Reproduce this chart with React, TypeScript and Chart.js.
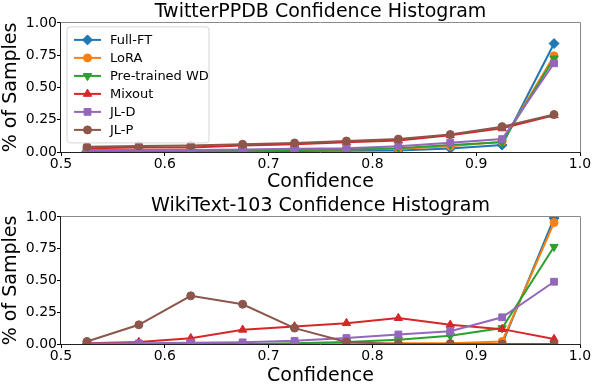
import React, { useEffect, useRef } from 'react';
import { Chart, registerables } from 'chart.js';

Chart.register(...registerables);

// ---------- data ----------
const bins = [0.525, 0.575, 0.625, 0.675, 0.725, 0.775, 0.825, 0.875, 0.925, 0.975];
const seriesNames = ['Full-FT', 'LoRA', 'Pre-trained WD', 'Mixout', 'JL-D', 'JL-P'];
const seriesColors = ['#1f77b4', '#ff7f0e', '#2ca02c', '#d62728', '#9467bd', '#8c564b'];
const seriesMarkers = ['rectRot', 'circle', 'triangle', 'triangle', 'rect', 'circle'];
const markerRotations = [0, 0, 180, 0, 0, 0];
const markerRadii = [5, 4, 4.8, 4.8, 4.8, 4];

const twitterFullFT = [0.005, 0.005, 0.005, 0.005, 0.008, 0.01, 0.012, 0.028, 0.054, 0.84];
const twitterLoRA = [0.01, 0.01, 0.01, 0.012, 0.015, 0.02, 0.025, 0.045, 0.08, 0.745];
const twitterWD = [0.01, 0.01, 0.01, 0.012, 0.015, 0.02, 0.03, 0.055, 0.075, 0.725];
const twitterMixout = [0.03, 0.035, 0.035, 0.05, 0.06, 0.075, 0.09, 0.13, 0.183, 0.285];
const twitterJLD = [0.015, 0.015, 0.015, 0.02, 0.025, 0.03, 0.045, 0.072, 0.1, 0.687];
const twitterJLP = [0.04, 0.047, 0.05, 0.06, 0.07, 0.085, 0.1, 0.135, 0.196, 0.29];

const wikiFullFT = [0, 0, 0, 0, 0, 0, 0, 0, 0, 0.99];
const wikiLoRA = [0, 0, 0, 0, 0, 0, 0.005, 0.005, 0.02, 0.955];
const wikiWD = [0, 0, 0, 0, 0.005, 0.016, 0.034, 0.065, 0.125, 0.765];
const wikiMixout = [0.005, 0.015, 0.045, 0.112, 0.138, 0.164, 0.204, 0.151, 0.117, 0.039];
const wikiJLD = [0.003, 0.005, 0.01, 0.013, 0.025, 0.047, 0.075, 0.1, 0.21, 0.49];
const wikiJLP = [0.02, 0.151, 0.379, 0.313, 0.125, 0.016, 0, 0, 0, 0];

const xTickValues = [0.5, 0.6, 0.7, 0.8, 0.9, 1.0];
const yTickValues = [0, 0.25, 0.5, 0.75, 1.0];

const FONT = "'DejaVu Sans', sans-serif";

function buildDatasets(series: number[][]) {
  return series.map((vals, i) => ({
    label: seriesNames[i],
    data: vals.map((v, j) => ({ x: bins[j], y: v })),
    borderColor: seriesColors[i],
    backgroundColor: seriesColors[i],
    pointBackgroundColor: seriesColors[i],
    pointBorderColor: seriesColors[i],
    pointStyle: seriesMarkers[i],
    pointRotation: markerRotations[i],
    pointRadius: markerRadii[i],
    pointBorderWidth: 1,
    borderWidth: 2,
    tension: 0,
    clip: 0,
    order: seriesNames.length - i,
  }));
}

const framePlugin = {
  id: 'frame',
  afterDraw(chart: any) {
    const { ctx, chartArea: a } = chart;
    ctx.save();
    ctx.lineWidth = 1;
    const l = Math.round(a.left) - 0.5;
    const r = Math.round(a.right) + 0.5;
    const t = Math.round(a.top) - 0.5;
    const b = Math.round(a.bottom) + 0.5;
    ctx.strokeStyle = '#8a8a8a';
    ctx.beginPath();
    ctx.moveTo(l, t);
    ctx.lineTo(r, t);
    ctx.lineTo(r, b);
    ctx.stroke();
    ctx.strokeStyle = '#222';
    ctx.beginPath();
    ctx.moveTo(l, t);
    ctx.lineTo(l, b);
    ctx.lineTo(r, b);
    ctx.stroke();
    ctx.restore();
  },
};

function drawMarker(ctx: CanvasRenderingContext2D, style: string, radius: number, rotationDeg: number, x: number, y: number) {
  const rad = (rotationDeg * Math.PI) / 180;
  ctx.beginPath();
  if (style === 'circle') {
    ctx.arc(x, y, radius, 0, Math.PI * 2);
  } else if (style === 'rect') {
    const s = Math.SQRT1_2 * radius;
    ctx.rect(x - s, y - s, 2 * s, 2 * s);
  } else if (style === 'rectRot') {
    ctx.moveTo(x - radius, y);
    ctx.lineTo(x, y - radius);
    ctx.lineTo(x + radius, y);
    ctx.lineTo(x, y + radius);
    ctx.closePath();
  } else if (style === 'triangle') {
    let r2 = rad;
    ctx.moveTo(x + Math.sin(r2) * radius, y - Math.cos(r2) * radius);
    r2 += (2 * Math.PI) / 3;
    ctx.lineTo(x + Math.sin(r2) * radius, y - Math.cos(r2) * radius);
    r2 += (2 * Math.PI) / 3;
    ctx.lineTo(x + Math.sin(r2) * radius, y - Math.cos(r2) * radius);
    ctx.closePath();
  }
  ctx.fill();
  ctx.stroke();
}

const legendBoxPlugin = {
  id: 'legendBox',
  afterDraw(chart: any, _args: any, opts: any) {
    if (!opts || !opts.show) return;
    const { ctx, chartArea: a } = chart;
    ctx.save();
    const x0 = a.left + 6;
    const y0 = a.top + 4;
    const w = 142;
    const h = 116;
    const rr = 3;
    ctx.beginPath();
    ctx.moveTo(x0 + rr, y0);
    ctx.arcTo(x0 + w, y0, x0 + w, y0 + h, rr);
    ctx.arcTo(x0 + w, y0 + h, x0, y0 + h, rr);
    ctx.arcTo(x0, y0 + h, x0, y0, rr);
    ctx.arcTo(x0, y0, x0 + w, y0, rr);
    ctx.closePath();
    ctx.fillStyle = 'rgba(255,255,255,0.8)';
    ctx.fill();
    ctx.strokeStyle = '#d6d6d6';
    ctx.lineWidth = 1;
    ctx.stroke();
    ctx.font = `13px ${FONT}`;
    ctx.textBaseline = 'middle';
    ctx.textAlign = 'left';
    seriesNames.forEach((name, i) => {
      const cy = y0 + 13 + i * 18;
      ctx.strokeStyle = seriesColors[i];
      ctx.lineWidth = 2;
      ctx.beginPath();
      ctx.moveTo(x0 + 7, cy);
      ctx.lineTo(x0 + 34, cy);
      ctx.stroke();
      ctx.fillStyle = seriesColors[i];
      ctx.strokeStyle = seriesColors[i];
      ctx.lineWidth = 1;
      drawMarker(ctx, seriesMarkers[i], markerRadii[i], markerRotations[i], x0 + 20.5, cy);
      ctx.fillStyle = '#000';
      ctx.fillText(name, x0 + 43, cy + 0.5);
    });
    ctx.restore();
  },
};

type PanelProps = {
  title: string;
  series: number[][];
  height: number;
  plotBottom: number;
  showLegend: boolean;
  top: number;
  titlePadTop: number;
};

function Panel({ title, series, height, plotBottom, showLegend, top, titlePadTop }: PanelProps) {
  const ref = useRef<HTMLCanvasElement | null>(null);
  useEffect(() => {
    if (!ref.current) return;
    const chart = new Chart(ref.current, {
      type: 'line',
      data: { datasets: buildDatasets(series) as any },
      plugins: [framePlugin, legendBoxPlugin],
      options: {
        animation: false,
        responsive: false,
        maintainAspectRatio: false,
        layout: { padding: { left: 0, right: 16, top: 0, bottom: 0 } },
        plugins: {
          legend: { display: false },
          tooltip: { enabled: false },
          title: {
            display: true,
            fullSize: false,
            text: title,
            color: '#000',
            font: { family: FONT, size: 19, weight: 'normal', lineHeight: 1.1 },
            padding: { top: titlePadTop, bottom: 0 },
          },
          legendBox: { show: showLegend },
        } as any,
        scales: {
          x: {
            type: 'linear',
            min: 0.5,
            max: 1.0,
            afterBuildTicks: (s: any) => {
              s.ticks = xTickValues.map((v) => ({ value: v }));
            },
            afterFit: (s: any) => {
              s.height = height - plotBottom;
            },
            border: { display: false },
            grid: { display: true, drawOnChartArea: false, drawTicks: true, tickLength: 4, color: '#000' },
            ticks: {
              color: '#000',
              font: { family: FONT, size: 14 },
              padding: 0,
              maxRotation: 0,
              callback: (v: any) => Number(v).toFixed(1),
            },
            title: {
              display: true,
              text: 'Confidence',
              color: '#000',
              font: { family: FONT, size: 19 },
              padding: { top: 0, bottom: 2 },
            },
          },
          y: {
            type: 'linear',
            min: 0,
            max: 1,
            afterBuildTicks: (s: any) => {
              s.ticks = yTickValues.map((v) => ({ value: v }));
            },
            afterFit: (s: any) => {
              s.width = 61;
            },
            border: { display: false },
            grid: { display: true, drawOnChartArea: false, drawTicks: true, tickLength: 4, color: '#000' },
            ticks: {
              color: '#000',
              font: { family: FONT, size: 14 },
              padding: 0,
              callback: (v: any) => Number(v).toFixed(2),
            },
            title: {
              display: true,
              text: '% of Samples',
              color: '#000',
              font: { family: FONT, size: 19 },
              padding: { top: 0, bottom: 0 },
            },
          },
        },
      },
    });
    return () => chart.destroy();
  }, []);
  return (
    <canvas
      ref={ref}
      width={596}
      height={height}
      style={{ position: 'absolute', left: 0, top, width: 596, height }}
    />
  );
}

export default function App() {
  return (
    <div style={{ position: 'fixed', left: 0, top: 0, width: 596, height: 389, background: '#fff' }}>
      <Panel
        title="TwitterPPDB Confidence Histogram"
        series={[twitterFullFT, twitterLoRA, twitterWD, twitterMixout, twitterJLD, twitterJLP]}
        height={195}
        plotBottom={152}
        showLegend={true}
        top={0}
        titlePadTop={2}
      />
      <Panel
        title="WikiText-103 Confidence Histogram"
        series={[wikiFullFT, wikiLoRA, wikiWD, wikiMixout, wikiJLD, wikiJLP]}
        height={194}
        plotBottom={149}
        showLegend={false}
        top={195}
        titlePadTop={1}
      />
    </div>
  );
}
